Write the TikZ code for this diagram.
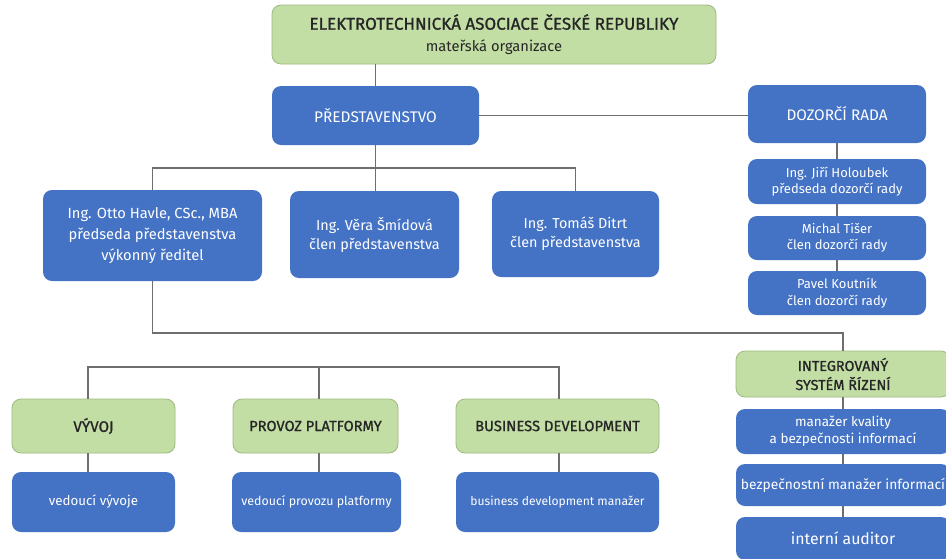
\documentclass[tikz,border=0pt]{standalone}
\usepackage{fontspec}
\setmainfont{Fira Sans}
\newfontfamily\capsfont[FakeBold=1.1]{Fira Sans}
\definecolor{boxblue}{HTML}{4472C4}
\definecolor{boxgreen}{HTML}{C3DEA5}
\definecolor{greenline}{HTML}{9DBA7E}
\definecolor{linegray}{HTML}{6E6E6E}
\begin{document}
\begin{tikzpicture}[x=1pt,y=-1pt,
  bluebox/.style={fill=boxblue, text=white, rounded corners=9pt, align=center, inner sep=0pt},
  greenbox/.style={draw=greenline, line width=0.8pt, fill=boxgreen, text=black!85, rounded corners=9pt, align=center, inner sep=0pt},
  fs/.style 2 args={font=\fontsize{#1}{#2}\selectfont},
  gfs/.style 2 args={font=\capsfont\fontsize{#1}{#2}\selectfont},
  link/.style={draw=linegray, line width=1.4pt}]
\clip (0,0) rectangle (946,558);
\fill[white] (0,0) rectangle (946,558);

% top of the chart
\node[greenbox, gfs={17}{22}, minimum width=444, minimum height=59] (eas) at (494,34.5) {ELEKTROTECHNICKÁ ASOCIACE ČESKÉ REPUBLIKY\\{\normalfont\fontsize{14.7}{22}\selectfont mateřská organizace}};
\node[bluebox, fs={15.4}{19}, minimum width=207, minimum height=59] (pr) at (375.5,115.5) {PŘEDSTAVENSTVO};
\node[bluebox, fs={15.3}{19}, minimum width=178, minimum height=58] (dr) at (837,114) {DOZORČÍ RADA};

% dozorci rada
\node[bluebox, fs={13}{16.5}, minimum width=178, minimum height=45] (hol) at (837,181.5) {Ing. Jiří Holoubek\\předseda dozorčí rady};
\node[bluebox, fs={13}{16.5}, minimum width=178, minimum height=44] (tis) at (837,238) {Michal Tišer\\člen dozorčí rady};
\node[bluebox, fs={13}{16.5}, minimum width=178, minimum height=44] (kou) at (837,293) {Pavel Koutník\\člen dozorčí rady};

% predstavenstvo
\node[bluebox, fs={14.7}{21}, minimum width=219, minimum height=91] (hav) at (152.5,235.5) {Ing. Otto Havle, CSc., MBA\\předseda představenstva\\výkonný ředitel};
\node[bluebox, fs={14.4}{19}, minimum width=169, minimum height=87] (smi) at (374.5,234.5) {Ing. Věra Šmídová\\člen představenstva};
\node[bluebox, fs={14.4}{19}, minimum width=167, minimum height=86] (dit) at (575.5,234) {Ing. Tomáš Ditrt\\člen představenstva};

% useky
\node[greenbox, gfs={15.2}{19}, minimum width=163, minimum height=54] (vyv) at (93.5,426) {VÝVOJ};
\node[greenbox, gfs={14.6}{19}, minimum width=165, minimum height=54] (pro) at (315.5,426) {PROVOZ PLATFORMY};
\node[greenbox, gfs={14.8}{19}, minimum width=203, minimum height=54] (bus) at (557.5,426) {BUSINESS DEVELOPMENT};
\node[greenbox, gfs={14.4}{19}, minimum width=214, minimum height=46] (isr) at (843,374) {INTEGROVANÝ\\SYSTÉM ŘÍZENÍ};

\node[bluebox, fs={13.3}{17}, minimum width=163, minimum height=60] (vv) at (93.5,502) {vedoucí vývoje};
\node[bluebox, fs={12.4}{17}, minimum width=169, minimum height=60] (vp) at (316.5,502) {vedoucí provozu platformy};
\node[bluebox, fs={12.1}{17}, minimum width=203, minimum height=60] (bm) at (557.5,502) {business development manažer};
\node[bluebox, fs={13.5}{17}, minimum width=214, minimum height=45] (mk) at (843,431.5) {manažer kvality\\a bezpečnosti informací};
\node[bluebox, fs={13.8}{17}, minimum width=214, minimum height=42] (bez) at (843,485) {bezpečnostní manažer informací};
\node[bluebox, fs={15.8}{19}, minimum width=214, minimum height=43] (aud) at (843,538.5) {interní auditor};

% spojnice
\coordinate (bar1) at (375,168);
\coordinate (bar2) at (500,333);
\coordinate (bar3) at (152,367);
\coordinate (d1) at (88,367);
\coordinate (d2) at (319,367);
\coordinate (d3) at (559,367);
\draw[link] (pr.north) -- (pr.north |- eas.south);
\draw[link] (pr.east) -- (dr.west |- pr.east);
\draw[link] (dr.south) -- (hol.north);
\draw[link] (hol.south) -- (tis.north);
\draw[link] (tis.south) -- (kou.north);
\draw[link] (pr.south) -- (pr.south |- smi.north);
\draw[link] (hav.north) |- (bar1) -| (dit.north);
\draw[link] (hav.south) |- (bar2) -| (isr.north);
\draw[link] (bar3) -- (d1) -- (d1 |- vyv.north);
\draw[link] (bar3) -- (d3) -- (d3 |- bus.north);
\draw[link] (d2) -- (d2 |- pro.north);
\draw[link] (vyv.south -| d1) -- (vv.north -| d1);
\draw[link] (pro.south -| d2) -- (vp.north -| d2);
\draw[link] (bus.south -| d3) -- (bm.north -| d3);
\draw[link] (isr.south) -- (mk.north);
\draw[link] (mk.south) -- (bez.north);
\draw[link] (bez.south) -- (aud.north);
\end{tikzpicture}
\end{document}
